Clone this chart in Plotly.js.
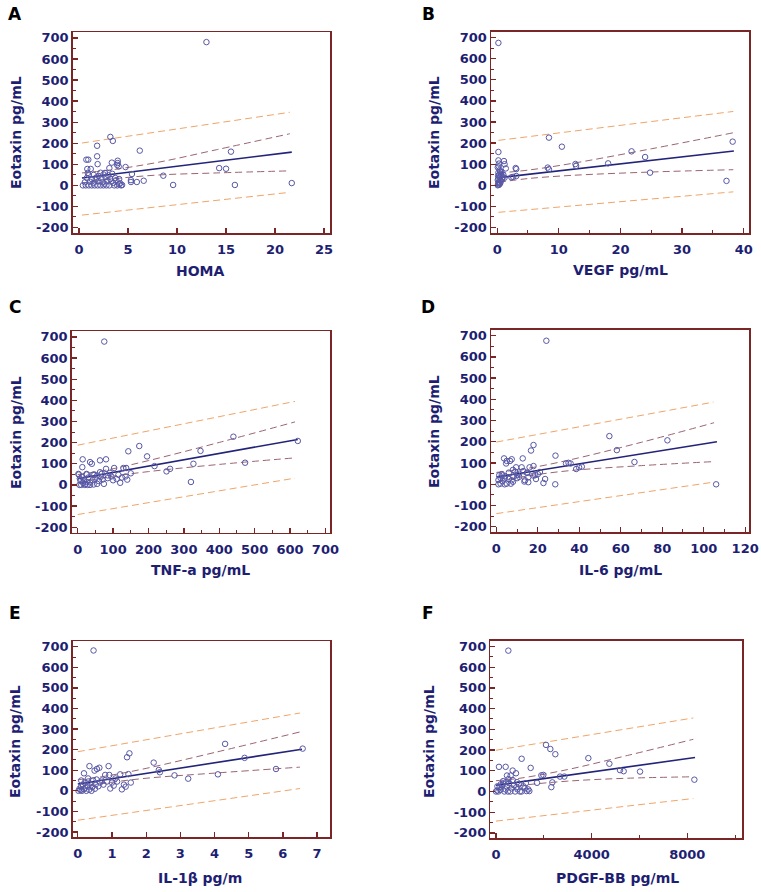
<!DOCTYPE html>
<html><head><meta charset="utf-8">
<script src="https://cdn.plot.ly/plotly-3.0.1.min.js"></script>
<style>html,body{margin:0;padding:0;background:#fff}#chart{width:761px;height:892px}</style>
</head><body><div id="chart"></div>
<script>
// ---------- Panel A: HOMA ----------
const aX = [13.0,3.2,3.45,1.85,1.85,1.9,6.2,15.5,14.3,15.0,15.9,21.7,9.6,8.6,6.6,5.9,5.3,5.3,5.4,4.75,4.05,3.95,3.95,3.9,3.35,2.65,3.1,0.95,0.75,0.85,1.2,0.9,
  0.4,0.7,1.0,1.3,1.6,1.9,2.2,2.5,2.8,3.1,3.6,3.9,4.3,4.1,0.6,1.1,1.5,2.0,2.4,2.9,3.3,3.8,4.2,0.8,1.3,1.8,2.3,2.7,3.2,3.7,4.1,1.0,1.5,2.0,2.5,3.0,3.4,2.2,1.7,2.6,3.5,4.4];
const aY = [680,230,211,188,138,101,165,160,82,79,2,11,2,46,22,16,16,25,54,87,90,117,106,97,108,59,82,122,122,78,78,59,
  0,0,0,0,0,0,0,0,0,0,0,0,0,5,15,18,12,20,15,22,18,25,10,35,30,38,33,40,30,35,30,48,50,45,52,48,55,60,28,8,12,2];
const aFitX = [0.3,21.7];
const aFitY = [35,158];
const aCiX = [0.3,3.5,8,14,21.5];
const aCiUp = [59,75,109,169,245];
const aCiLo = [11,31,49,59,69];
const aPiX = [0.3,21.5];
const aPiUp = [201,347];
const aPiLo = [-141,-33];
const aXTicks = [0,5,10,15,20,25];

// ---------- Panel B: VEGF ----------
const bX = [0.2,8.4,10.5,21.8,38.2,24.0,18.0,12.7,12.8,8.2,8.4,24.8,37.2,3.0,3.1,3.1,2.3,2.6,1.1,1.2,1.4,1.2,0.2,0.2,0.3,0.4,
  0.1,0.2,0.3,0.1,0.2,0.4,0.3,0.2,0.5,0.4,0.1,0.6,0.7,0.8,0.6,0.5,0.9,0.3,0.2,0.7,0.15,0.45,1.0,0.25];
const bY = [675,226,183,161,207,134,104,101,92,84,76,60,21,82,77,44,38,40,115,100,80,36,158,118,103,8,
  0,5,15,25,32,40,50,60,65,72,85,55,45,30,20,10,38,2,12,62,45,28,50,90];
const bFitX = [0.2,38.4];
const bFitY = [36,163];
const bCiX = [0.2,5,12,25,38.3];
const bCiUp = [58,72,103,173,249];
const bCiLo = [14,32,47,63,74];
const bPiX = [0.2,38.3];
const bPiUp = [213,350];
const bPiLo = [-128,-31];
const bXTicks = [0,10,20,30,40];

// ---------- Panel C: TNF-a ----------
const cX = [75,440,622,174,143,347,196,14,63,80,35,40,327,473,217,261,251,320,80,103,129,137,13,3,25,47,68,91,74,85,2,25,44,63,
  5,10,20,28,35,45,55,15,25,35,8,18,42,60,70,100,110,120,125,135,140,95,85,30,50,65,12,55,115,150,6,22];
const cY = [678,228,208,184,159,161,135,121,116,121,108,100,100,105,89,76,64,14,76,80,80,80,84,49,49,48,53,57,5,32,52,52,49,60,
  0,0,0,0,0,2,5,10,15,12,20,25,22,18,25,22,28,10,35,40,25,40,45,35,30,38,38,45,48,55,30,5];
const cFitX = [0,622];
const cFitY = [29,215];
const cCiX = [0,80,200,400,614];
const cCiUp = [49,70,115,201,298];
const cCiLo = [9,36,63,97,128];
const cPiX = [0,614];
const cPiUp = [188,395];
const cPiLo = [-140,32];
const cXTicks = [0,100,200,300,400,500,600,700];

// ---------- Panel D: IL-6 ----------
const dX = [24.1,54.5,82.5,58.1,66.6,106,17.9,16.7,28.5,3.7,7.4,5,4.7,6.6,12.7,28.4,22.7,23.5,35.8,34.8,33.6,38.5,39.9,41.2,9.5,12.2,16,17.9,10,13.5,15.4,15.4,19.1,17.9,
  1.4,2.6,4.2,2,5,7,7.4,8.2,11,13.8,14.7,18.7,1,3,4,6,8,2,3,6,9,1,4,10,11,8,13,15,20,21];
const dY = [676,227,207,161,105,0,185,159,135,122,118,110,98,110,122,0,6,25,98,101,98,72,80,83,80,80,80,86,29,13,10,33,25,41,
  43,48,38,3,3,3,19,35,35,19,54,43,0,15,0,25,12,30,42,55,60,20,28,45,50,68,62,55,48,58];
const dFitX = [0,106.4];
const dFitY = [34,200];
const dCiX = [0,15,35,70,105];
const dCiUp = [56,75,114,198,290];
const dCiLo = [12,39,64,88,107];
const dPiX = [0,104.7];
const dPiUp = [199,387];
const dPiLo = [-138,10];
const dXTicks = [0,20,40,60,80,100,120];

// ---------- Panel E: IL-1beta ----------
const eX = [0.46,4.31,6.58,4.88,5.8,4.1,3.23,2.83,2.22,2.37,2.4,1.51,1.44,1.48,0.34,0.18,0.56,0.63,0.49,0.9,0.8,0.92,1.24,1.29,0.95,
  0.02,0.05,0.08,0.1,0.12,0.15,0.18,0.2,0.22,0.25,0.28,0.3,0.33,0.36,0.4,0.42,0.45,0.5,0.52,0.55,0.6,0.65,0.7,0.75,1.0,1.05,1.15,1.35,1.4,1.55,0.85,1.1,0.1,0.3];
const eY = [682,228,205,160,106,80,59,75,137,101,90,182,163,81,120,85,106,112,98,120,77,77,80,7,11,
  0,10,3,20,0,30,8,40,15,0,25,45,5,35,0,18,50,10,30,55,22,40,50,30,40,25,45,30,20,40,45,60,50,60];
const eFitX = [0,6.56];
const eFitY = [33,202];
const eCiX = [0,0.8,2,4,6.5];
const eCiUp = [53,71,109,186,286];
const eCiLo = [13,37,61,86,115];
const ePiX = [0,6.5];
const ePiUp = [190,378];
const ePiLo = [-143,11];
const eXTicks = [0,1,2,3,4,5,6,7];

// ---------- Panel F: PDGF-BB ----------
const fX = [516,2091,2272,2481,1073,3861,4740,1450,125,404,697,836,460,613,1896,1980,2676,2857,5186,5339,6022,8294,2356,2314,1715,1394,1282,1073,
  0,50,100,150,200,250,300,350,400,450,500,550,600,650,700,750,800,850,900,950,1000,1150,1250,1350,300,180,60,420,520,880,1200];
const fY = [680,225,205,180,158,161,134,114,119,119,101,88,77,77,78,80,72,72,103,98,96,57,44,21,42,2,2,0,
  0,5,0,20,35,30,50,0,10,25,0,40,0,15,55,30,0,20,10,35,0,25,40,10,38,8,25,45,60,45,15];
const fFitX = [0,8322];
const fFitY = [30,164];
const fCiX = [0,1000,3000,5500,8250];
const fCiUp = [52,64,106,174,252];
const fCiLo = [8,28,50,64,71];
const fPiX = [0,8250];
const fPiUp = [199,355];
const fPiLo = [-143,-34];
const fXTicks = [0,4000,8000];

// ---------- Labels ----------
const panelLetters = ['A','B','C','D','E','F'];
const xTitles = ['HOMA','VEGF pg/mL','TNF-a pg/mL','IL-6 pg/mL','IL-1\u03B2 pg/m','PDGF-BB pg/mL'];
const yTitle = 'Eotaxin pg/mL';
const yTicks = [-200,-100,0,100,200,300,400,500,600,700];

// ---------- Styling / layout ----------
const W = 761, H = 892;
const NAVY = '#1e1e72', FRAME = '#7a2626', PT = '#5858a6', FIT = '#23237a', CI = '#9a6470', PI = '#f0a468';
const FAM = 'DejaVu Sans, Arial, sans-serif';
const tickFont = {family:FAM, size:13, color:NAVY};
const titleFont = {family:FAM, size:14, color:NAVY};
const bold = v => '<b>' + v + '</b>';

// pixel frames [left, right, top, bottom]
const frames = [
  [72.7,330,32,233],[491,749.3,31.7,233],
  [71.7,330,331,532.7],[491,749.3,329.7,532.3],
  [72.7,330,641,837.3],[490.3,742,640.7,838.3]
];
const xRanges = [[-0.64,25.6],[-1.0,40.9],[-17,713],[-2.6,122],[-0.15,7.38],[-238,10286]];
const yRange = [-226,728];
const xTickSets = [aXTicks,bXTicks,cXTicks,dXTicks,eXTicks,fXTicks];
const xMinor = [null,{dtick:5},{dtick:50},{dtick:10},null,{dtick:2000}];
const letterPos = [[15,14],[428,14],[15,307],[428,307],[15,613],[428,613]];
const yTitlePos = [[16,133],[434,133],[16,433],[434,432],[15,742],[429,742]];
const xTitlePos = [[200,271],[620,270],[200,570],[620,570],[200,878],[617,878]];

const sets = [
  [aX,aY,aFitX,aFitY,aCiX,aCiUp,aCiLo,aPiX,aPiUp,aPiLo],
  [bX,bY,bFitX,bFitY,bCiX,bCiUp,bCiLo,bPiX,bPiUp,bPiLo],
  [cX,cY,cFitX,cFitY,cCiX,cCiUp,cCiLo,cPiX,cPiUp,cPiLo],
  [dX,dY,dFitX,dFitY,dCiX,dCiUp,dCiLo,dPiX,dPiUp,dPiLo],
  [eX,eY,eFitX,eFitY,eCiX,eCiUp,eCiLo,ePiX,ePiUp,ePiLo],
  [fX,fY,fFitX,fFitY,fCiX,fCiUp,fCiLo,fPiX,fPiUp,fPiLo]
];

const traces = [];
const layout = {
  width:W, height:H, margin:{l:0,r:0,t:0,b:0}, showlegend:false,
  paper_bgcolor:'#fff', plot_bgcolor:'#fff', annotations:[]
};
const dashStyle = '7px,4px';

sets.forEach((s,i)=>{
  const n = i+1;
  const xa = 'x'+(n===1?'':n), ya = 'y'+(n===1?'':n);
  const [px,py,fx,fy,cx,cu,cl,qx,qu,ql] = s;
  const common = {xaxis:xa, yaxis:ya, hoverinfo:'skip'};
  traces.push(Object.assign({x:qx,y:qu,mode:'lines',line:{color:PI,width:1,dash:dashStyle}},common));
  traces.push(Object.assign({x:qx,y:ql,mode:'lines',line:{color:PI,width:1,dash:dashStyle}},common));
  traces.push(Object.assign({x:cx,y:cu,mode:'lines',line:{color:CI,width:1,dash:dashStyle,shape:'spline',smoothing:1}},common));
  traces.push(Object.assign({x:cx,y:cl,mode:'lines',line:{color:CI,width:1,dash:dashStyle,shape:'spline',smoothing:1}},common));
  traces.push(Object.assign({x:fx,y:fy,mode:'lines',line:{color:FIT,width:1.6}},common));
  traces.push(Object.assign({x:px,y:py,mode:'markers',marker:{symbol:'circle-open',size:5.5,color:PT,line:{width:1,color:PT}}},common));

  const [l,r,t,b] = frames[i];
  const xk = 'xaxis'+(n===1?'':n), yk = 'yaxis'+(n===1?'':n);
  const xt = xTickSets[i];
  layout[xk] = {
    domain:[l/W, r/W], range:xRanges[i], anchor:ya,
    tickmode:'array', tickvals:xt, ticktext:xt.map(bold),
    showline:true, mirror:true, linecolor:FRAME, linewidth:1.5,
    ticks:'inside', ticklen:5, tickwidth:1.3, tickcolor:FRAME,
    showgrid:false, zeroline:false, tickfont:tickFont, ticklabelstandoff:4
  };
  if (xMinor[i]) layout[xk].minor = {tickmode:'linear', tick0:0, dtick:xMinor[i].dtick, ticks:'inside', ticklen:3, tickcolor:FRAME, tickwidth:1, showgrid:false};
  layout[yk] = {
    domain:[1-b/H, 1-t/H], range:yRange, anchor:xa,
    tickmode:'array', tickvals:yTicks, ticktext:yTicks.map(bold),
    minor:{tickmode:'linear', tick0:-200, dtick:50, ticks:'inside', ticklen:3, tickcolor:FRAME, tickwidth:1, showgrid:false},
    showline:true, mirror:true, linecolor:FRAME, linewidth:1.5,
    ticks:'inside', ticklen:5, tickwidth:1.3, tickcolor:FRAME,
    showgrid:false, zeroline:false, tickfont:tickFont
  };
  layout.annotations.push({text:bold(panelLetters[i]), xref:'paper', yref:'paper', x:letterPos[i][0]/W, y:1-letterPos[i][1]/H,
    xanchor:'center', yanchor:'middle', showarrow:false, font:{family:FAM, size:17, color:'#000'}});
  layout.annotations.push({text:bold(yTitle), xref:'paper', yref:'paper', x:yTitlePos[i][0]/W, y:1-yTitlePos[i][1]/H,
    xanchor:'center', yanchor:'middle', textangle:-90, showarrow:false, font:titleFont});
  layout.annotations.push({text:bold(xTitles[i]), xref:'paper', yref:'paper', x:xTitlePos[i][0]/W, y:1-xTitlePos[i][1]/H,
    xanchor:'center', yanchor:'middle', showarrow:false, font:titleFont});
});

Plotly.newPlot('chart', traces, layout, {staticPlot:true, displayModeBar:false});
</script>
</body></html>
